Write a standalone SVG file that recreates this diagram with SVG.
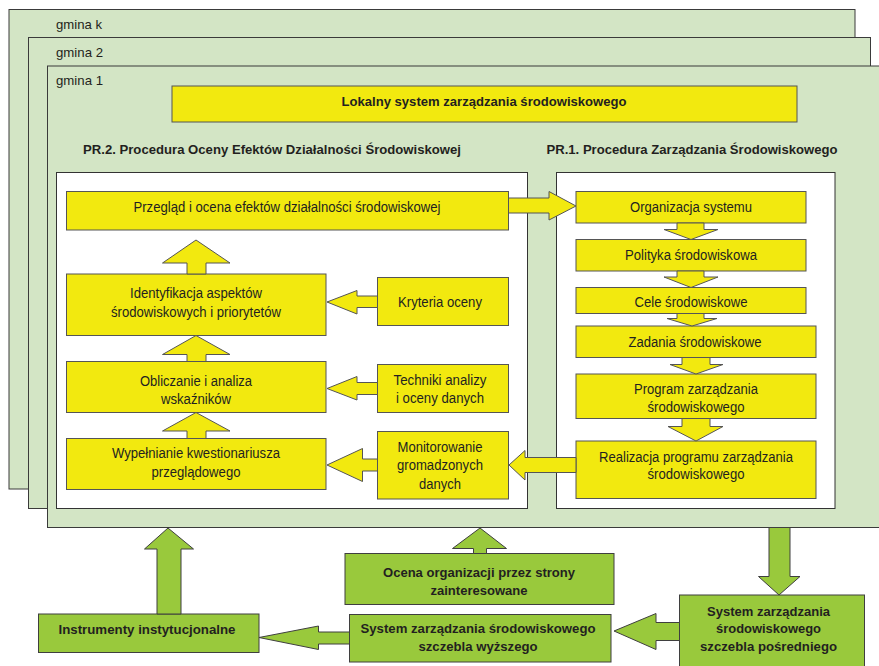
<svg xmlns="http://www.w3.org/2000/svg" width="879" height="666" viewBox="0 0 879 666">
<defs>
<style>
.panel{fill:#D3E5C5;stroke:#3a3a3a;stroke-width:1}
.wh{fill:#ffffff;stroke:#333333;stroke-width:1}
.y{fill:#F2E90F;stroke:#555555;stroke-width:1}
.g{fill:#99C93C;stroke:#3f3f3f;stroke-width:1}
.t{font-family:"Liberation Sans",Arial,sans-serif;font-size:14px;fill:#231F20;text-anchor:middle}
.b{font-weight:bold;font-size:13px}
.l{text-anchor:start;font-size:13px}
</style>
</defs>
<rect width="879" height="666" fill="#ffffff"/>
<g id="panel-k"><rect class="panel" x="9" y="9.5" width="846" height="479.5"/><text class="t l" x="56" y="29" textLength="46" lengthAdjust="spacingAndGlyphs">gmina k</text></g>
<g id="panel-2"><rect class="panel" x="28.5" y="37.5" width="842" height="471"/><text class="t l" x="56" y="57" textLength="47" lengthAdjust="spacingAndGlyphs">gmina 2</text></g>
<g id="panel-1"><rect class="panel" x="47.5" y="66" width="840" height="461.5"/><text class="t l" x="56" y="85" textLength="47" lengthAdjust="spacingAndGlyphs">gmina 1</text></g>
<g id="lokalny"><rect class="y" x="172" y="86" width="625" height="36"/><text class="t b" x="484" y="106" textLength="285" lengthAdjust="spacingAndGlyphs">Lokalny system zarządzania środowiskowego</text></g>
<g id="title-pr2"><text class="t b" x="272" y="154" textLength="378" lengthAdjust="spacingAndGlyphs">PR.2. Procedura Oceny Efektów Działalności Środowiskowej</text></g>
<g id="title-pr1"><text class="t b" x="692" y="154" textLength="291" lengthAdjust="spacingAndGlyphs">PR.1. Procedura Zarządzania Środowiskowego</text></g>
<g id="pr2-box"><rect class="wh" x="56.5" y="172.5" width="471" height="336"/></g>
<g id="pr1-box"><rect class="wh" x="556.5" y="172.5" width="278.5" height="336"/></g>

<g id="przeglad"><rect class="y" x="66.5" y="191.5" width="442" height="38.5"/><text class="t" x="287" y="212" textLength="307" lengthAdjust="spacingAndGlyphs">Przegląd i ocena efektów działalności środowiskowej</text></g>
<g id="identyfikacja"><rect class="y" x="66.5" y="274" width="259.5" height="61.5"/><text class="t" x="196" y="298" textLength="132" lengthAdjust="spacingAndGlyphs">Identyfikacja aspektów</text><text class="t" x="196" y="316.5" textLength="170" lengthAdjust="spacingAndGlyphs">środowiskowych i priorytetów</text></g>
<g id="kryteria"><rect class="y" x="377.5" y="277.5" width="131" height="48"/><text class="t" x="440" y="307" textLength="84" lengthAdjust="spacingAndGlyphs">Kryteria oceny</text></g>
<g id="obliczanie"><rect class="y" x="66.5" y="361.5" width="259.5" height="51"/><text class="t" x="196" y="385.5" textLength="112" lengthAdjust="spacingAndGlyphs">Obliczanie i analiza</text><text class="t" x="196" y="404" textLength="70" lengthAdjust="spacingAndGlyphs">wskaźników</text></g>
<g id="techniki"><rect class="y" x="377.5" y="364.5" width="131" height="48"/><text class="t" x="440" y="385" textLength="93" lengthAdjust="spacingAndGlyphs">Techniki analizy</text><text class="t" x="440" y="403" textLength="88" lengthAdjust="spacingAndGlyphs">i oceny danych</text></g>
<g id="wypelnianie"><rect class="y" x="66.5" y="438.5" width="259.5" height="51"/><text class="t" x="196" y="458" textLength="168" lengthAdjust="spacingAndGlyphs">Wypełnianie kwestionariusza</text><text class="t" x="196" y="476.5" textLength="89" lengthAdjust="spacingAndGlyphs">przeglądowego</text></g>
<g id="monitorowanie"><rect class="y" x="377.5" y="431.5" width="131" height="67.5"/><text class="t" x="440" y="452" textLength="85" lengthAdjust="spacingAndGlyphs">Monitorowanie</text><text class="t" x="440" y="470" textLength="86" lengthAdjust="spacingAndGlyphs">gromadzonych</text><text class="t" x="440" y="488.5" textLength="42" lengthAdjust="spacingAndGlyphs">danych</text></g>

<g id="organizacja"><rect class="y" x="576" y="191.5" width="230" height="31.5"/><text class="t" x="691" y="211.5" textLength="122" lengthAdjust="spacingAndGlyphs">Organizacja systemu</text></g>
<g id="polityka"><rect class="y" x="576" y="239.5" width="230" height="31.5"/><text class="t" x="691" y="260" textLength="132" lengthAdjust="spacingAndGlyphs">Polityka środowiskowa</text></g>
<g id="cele"><rect class="y" x="576" y="287.5" width="230" height="26"/><text class="t" x="691" y="307" textLength="113" lengthAdjust="spacingAndGlyphs">Cele środowiskowe</text></g>
<g id="zadania"><rect class="y" x="576" y="326" width="240" height="31.5"/><text class="t" x="695" y="346.5" textLength="133" lengthAdjust="spacingAndGlyphs">Zadania środowiskowe</text></g>
<g id="program"><rect class="y" x="576" y="374" width="240" height="44.5"/><text class="t" x="696" y="394" textLength="124" lengthAdjust="spacingAndGlyphs">Program zarządzania</text><text class="t" x="696" y="411.5" textLength="97" lengthAdjust="spacingAndGlyphs">środowiskowego</text></g>
<g id="realizacja"><rect class="y" x="576" y="441" width="240" height="57.5"/><text class="t" x="696" y="462" textLength="194" lengthAdjust="spacingAndGlyphs">Realizacja programu zarządzania</text><text class="t" x="696" y="479" textLength="97" lengthAdjust="spacingAndGlyphs">środowiskowego</text></g>

<g id="ocena"><rect class="g" x="345" y="553.5" width="269" height="51"/><text class="t b" x="479" y="577" textLength="192" lengthAdjust="spacingAndGlyphs">Ocena organizacji przez strony</text><text class="t b" x="479" y="594.5" textLength="97" lengthAdjust="spacingAndGlyphs">zainteresowane</text></g>
<g id="instrumenty"><rect class="g" x="38.5" y="614" width="220.5" height="38.5"/><text class="t b" x="147" y="633.5" textLength="177" lengthAdjust="spacingAndGlyphs">Instrumenty instytucjonalne</text></g>
<g id="wyzszego"><rect class="g" x="349.5" y="614.5" width="261.5" height="47.5"/><text class="t b" x="478" y="632.5" textLength="235" lengthAdjust="spacingAndGlyphs">System zarządzania środowiskowego</text><text class="t b" x="478" y="650.5" textLength="119" lengthAdjust="spacingAndGlyphs">szczebla wyższego</text></g>
<g id="posredniego"><rect class="g" x="679.5" y="595" width="185" height="80"/><text class="t b" x="768.5" y="615.5" textLength="123" lengthAdjust="spacingAndGlyphs">System zarządzania</text><text class="t b" x="768.5" y="632.5" textLength="105" lengthAdjust="spacingAndGlyphs">środowiskowego</text><text class="t b" x="768.5" y="650.5" textLength="137" lengthAdjust="spacingAndGlyphs">szczebla pośredniego</text></g>

<g id="connectors">
<polygon class="y" points="508.5,198 549,198 549,191.5 576,206 549,220 549,213 508.5,213"/>
<polygon class="y" points="187,274 187,263 162.5,263 196,240 230,263 206,263 206,274"/>
<polygon class="y" points="187,361.5 187,354.5 162.5,354.5 196,335.5 230,354.5 206,354.5 206,361.5"/>
<polygon class="y" points="187,438.5 187,431 162.5,431 196,412.5 230,431 206,431 206,438.5"/>
<polygon class="y" points="377.5,296 357,296 357,290.5 327,302 357,314 357,307.5 377.5,307.5"/>
<polygon class="y" points="377.5,382.5 357,382.5 357,376.5 327,388.5 357,400 357,394.5 377.5,394.5"/>
<polygon class="y" points="377.5,459 362.5,459 362.5,448.5 327,465 362.5,481.5 362.5,471 377.5,471"/>
<polygon class="y" points="576,457.5 525,457.5 525,450.5 509,465 525,480 525,472.5 576,472.5"/>
<polygon class="y" points="677,223 677,229.5 664,229.5 691,239.5 718,229.5 704,229.5 704,223"/>
<polygon class="y" points="677,271 677,277 664,277 691,287.5 718,277 704,277 704,271"/>
<polygon class="y" points="677,313.5 677,318.5 667,318.5 692,326 717,318.5 704,318.5 704,313.5"/>
<polygon class="y" points="682,357.5 682,364.5 670,364.5 696,374 723,364.5 710,364.5 710,357.5"/>
<polygon class="y" points="682,418.5 682,426.5 668,426.5 696,441 723,426.5 710,426.5 710,418.5"/>
<polygon class="g" points="157,614 157,549 144.5,549 168,528 193.5,549 181,549 181,614"/>
<polygon class="g" points="473.5,553.5 473.5,548.5 452.5,548.5 480,528 506.5,548.5 486.5,548.5 486.5,553.5"/>
<polygon class="g" points="769,527.5 769,576.5 758.5,576.5 779,595 800,576.5 790,576.5 790,527.5"/>
<polygon class="g" points="679.5,622.5 656,622.5 656,613.5 614,631 656,649.5 656,640.5 679.5,640.5"/>
<polygon class="g" points="349.5,632 318.5,632 318.5,626 259,637.5 318.5,649.5 318.5,644 349.5,644"/>
</g>
</svg>
